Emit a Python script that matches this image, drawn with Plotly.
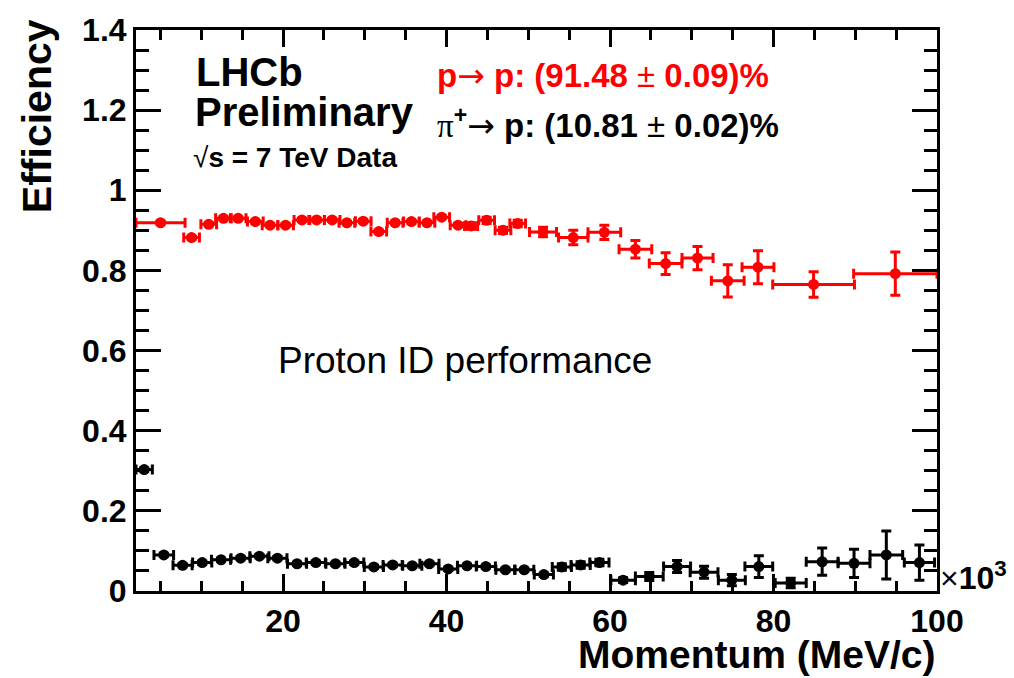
import plotly.graph_objects as go

# Proton efficiency (p -> p), momentum in units of 10^3 MeV/c
p_mom = [5.0, 8.8, 10.9, 12.7, 14.5, 16.6, 18.4, 20.3, 22.3, 24.1, 26.0, 27.8,
         29.8, 31.7, 33.7, 35.7, 37.6, 39.4, 41.4, 43.0, 44.9, 46.9, 48.7,
         51.8, 55.5, 59.3, 63.1, 66.8, 70.7, 74.4, 78.1, 84.9, 94.9]
p_mom_err = [3.0, 0.96, 0.96, 0.96, 0.96, 0.96, 0.96, 0.96, 0.96, 0.96, 0.96, 0.96,
             0.96, 0.96, 0.96, 0.96, 0.96, 0.96, 0.96, 0.8, 0.96, 0.96, 0.96,
             1.65, 1.8, 2.0, 2.0, 2.0, 1.9, 2.0, 1.95, 5.0, 5.1]
p_eff = [0.919, 0.882, 0.915, 0.930, 0.930, 0.922, 0.913, 0.913, 0.926, 0.926, 0.926, 0.919,
         0.923, 0.897, 0.919, 0.922, 0.919, 0.933, 0.913, 0.911, 0.925, 0.900, 0.917,
         0.896, 0.882, 0.895, 0.853, 0.817, 0.831, 0.774, 0.808, 0.765, 0.792]
p_eff_err = [0.004, 0.004, 0.004, 0.004, 0.004, 0.004, 0.004, 0.004, 0.004, 0.004, 0.004, 0.004,
             0.004, 0.004, 0.004, 0.004, 0.004, 0.004, 0.004, 0.008, 0.008, 0.008, 0.008,
             0.012, 0.018, 0.018, 0.022, 0.027, 0.029, 0.040, 0.041, 0.032, 0.054]

# Pion misidentification (pi+ -> p)
pi_mom = [3.0, 5.4, 7.7, 10.1, 12.4, 14.8, 17.1, 19.3, 21.7, 24.0, 26.4, 28.7,
          31.1, 33.4, 35.8, 37.9, 40.2, 42.5, 44.8, 47.2, 49.5, 51.9, 54.1, 56.4,
          58.7, 61.6, 64.8, 68.2, 71.5, 74.9, 78.2, 82.1, 85.95, 89.85, 93.8, 97.85]
pi_mom_err = [1.0, 1.2, 1.17, 1.17, 1.17, 1.17, 1.17, 1.17, 1.17, 1.17, 1.17, 1.17,
              1.17, 1.17, 1.17, 1.17, 1.17, 1.17, 1.17, 1.17, 1.17, 1.17, 1.17, 1.17,
              1.17, 1.5, 1.7, 1.65, 1.7, 1.65, 1.7, 1.9, 1.95, 1.95, 2.0, 1.85]
pi_eff = [0.303, 0.090, 0.064, 0.071, 0.078, 0.082, 0.087, 0.082, 0.068, 0.071, 0.068, 0.071,
          0.060, 0.065, 0.063, 0.068, 0.055, 0.063, 0.061, 0.053, 0.053, 0.041, 0.060, 0.065,
          0.071, 0.027, 0.036, 0.061, 0.047, 0.027, 0.061, 0.020, 0.073, 0.069, 0.090, 0.071]
pi_eff_err = [0.004, 0.004, 0.004, 0.004, 0.004, 0.004, 0.004, 0.004, 0.004, 0.004, 0.004, 0.004,
              0.004, 0.004, 0.004, 0.004, 0.004, 0.004, 0.004, 0.004, 0.004, 0.004, 0.008, 0.008,
              0.008, 0.006, 0.010, 0.015, 0.015, 0.014, 0.027, 0.012, 0.034, 0.035, 0.060, 0.044]

x_ticks = [20, 40, 60, 80, 100]
y_ticks = [0, 0.2, 0.4, 0.6, 0.8, 1.0, 1.2, 1.4]

W, H = 1014, 678
ML, MR, MT, MB = 136, 77, 23, 87
PW, PH = W - ML - MR, H - MT - MB

FONT = "Liberation Sans, Arial, Helvetica, sans-serif"
SYM = "font-family:'DejaVu Sans';font-weight:normal"
SERIF = "font-family:'Liberation Serif';font-weight:normal"


def px(x):
    return (x - ML) / PW


def py(y):
    return (H - MB - y) / PH


def series(x, xe, y, ye, color):
    return go.Scatter(
        x=x, y=y, mode="markers",
        marker=dict(symbol="circle", size=11, color=color),
        error_x=dict(type="data", array=xe, color=color, thickness=3, width=5),
        error_y=dict(type="data", array=ye, color=color, thickness=3, width=5),
        showlegend=False, hoverinfo="x+y",
    )


fig = go.Figure()
fig.add_trace(series(pi_mom, pi_mom_err, pi_eff, pi_eff_err, "black"))
fig.add_trace(series(p_mom, p_mom_err, p_eff, p_eff_err, "#ff0000"))

tickfont = dict(family=FONT, size=32, color="black", weight="bold")
axis_common = dict(
    showline=True, linewidth=3, linecolor="black", mirror="ticks",
    ticks="inside", tickwidth=3, tickcolor="black",
    showgrid=False, zeroline=False, tickfont=tickfont,
)

fig.update_xaxes(
    range=[2, 100], tickmode="array", tickvals=x_ticks,
    ticktext=[str(v) for v in x_ticks], ticklen=17,
    minor=dict(tickmode="linear", tick0=0, dtick=5, ticklen=10, tickwidth=3,
               tickcolor="black", ticks="inside", showgrid=False),
    **axis_common,
)
fig.update_yaxes(
    range=[0, 1.4], tickmode="array", tickvals=y_ticks,
    ticktext=["0", "0.2", "0.4", "0.6", "0.8", "1", "1.2", "1.4"], ticklen=25,
    minor=dict(tickmode="linear", tick0=0, dtick=0.05, ticklen=13, tickwidth=3,
               tickcolor="black", ticks="inside", showgrid=False),
    **axis_common,
)


def label(text, x, y, size, color="black", xanchor="left", yanchor="middle",
          angle=0, weight="normal"):
    fig.add_annotation(
        text=text, x=px(x), y=py(y), xref="paper", yref="paper",
        xanchor=xanchor, yanchor=yanchor, showarrow=False, textangle=angle,
        borderpad=0,
        font=dict(family=FONT, size=size, color=color, weight=weight),
    )


label("Efficiency", 37, 11, 41, xanchor="center", yanchor="top", angle=-90,
      weight="bold")
label("Momentum (MeV/c)", 937, 655, 39, xanchor="right", weight="bold")
label("×<b>10</b><sup><b>3</b></sup>", 939, 576, 32)

label("LHCb", 195, 66, 40, weight="bold")
label("Preliminary", 194, 106, 40, weight="bold")
label("√<b>s = 7 TeV Data</b>", 192, 152, 28)
arrow = f"<span style=\"{SYM}\">→</span>"
label(f"<b>p</b>{arrow}<b> p: (91.48 </b>±<b> 0.09)%</b>", 436, 69, 33,
      color="#ff0000")
label(f"<span style=\"{SERIF}\">π</span><sup><b>+</b></sup>{arrow}"
      "<b> p: (10.81 </b>±<b> 0.02)%</b>", 436, 118, 33)
label("Proton ID performance", 277, 358, 37)

fig.update_layout(
    width=W, height=H,
    margin=dict(l=ML, r=MR, t=MT, b=MB, pad=0),
    plot_bgcolor="white", paper_bgcolor="white",
    font=dict(family=FONT, color="black"),
)

fig.write_html("out.html")
